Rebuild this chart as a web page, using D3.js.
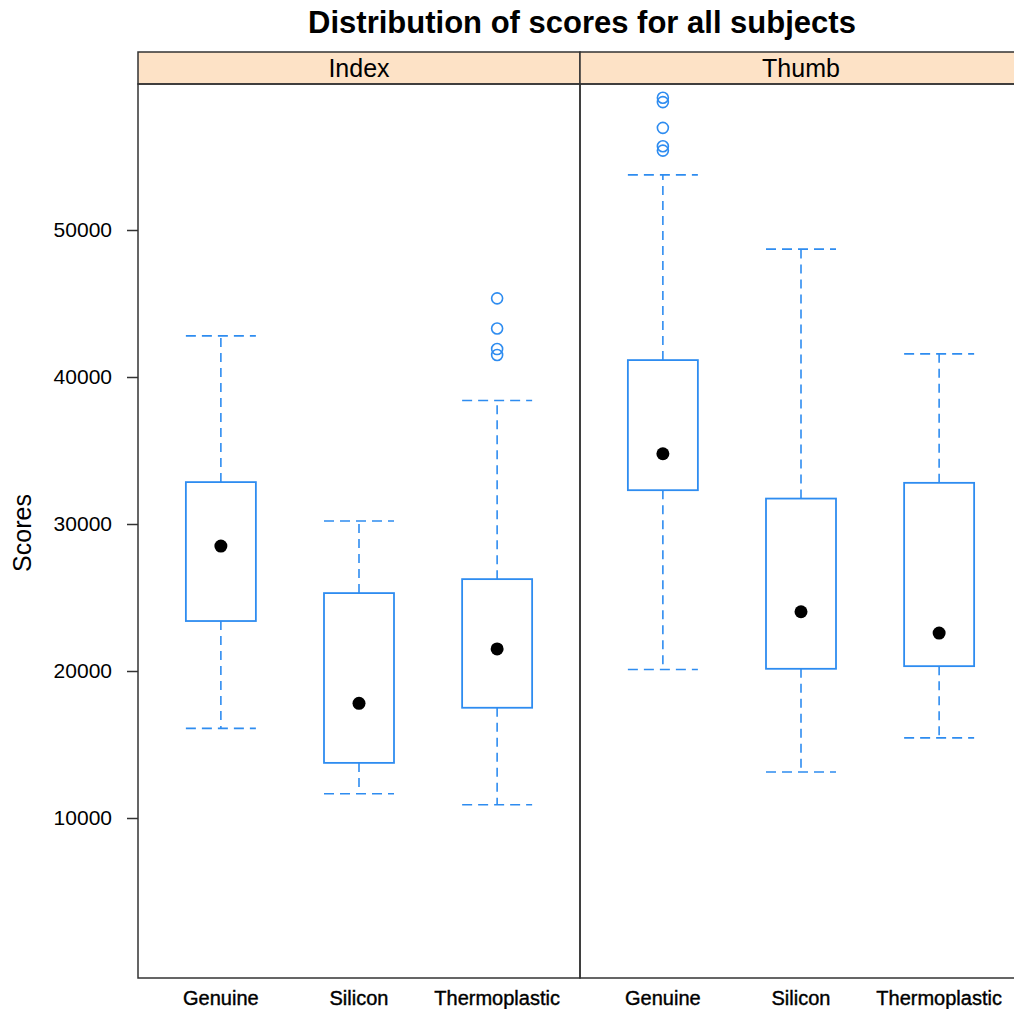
<!DOCTYPE html>
<html>
<head>
<meta charset="utf-8">
<script src="https://cdn.jsdelivr.net/npm/d3@7"></script>
<style>
  body { margin: 0; background: #fff; }
  svg { display: block; font-family: "Liberation Sans", Arial, sans-serif; }
</style>
</head>
<body>
<script>
// panels and groups
const panels = ["Index", "Thumb"];
const groups = ["Genuine", "Silicon", "Thermoplastic"];

// five-number summaries: [lowWhisker, q1, median, q3, highWhisker]
const indexStats = [
  [16100, 23400, 28500, 32850, 42800],
  [11650, 13750, 17800, 25300, 30200],
  [10900, 17500, 21500, 26250, 38400]
];
const thumbStats = [
  [20100, 32300, 34780, 41150, 53750],
  [13130, 20150, 24030, 31730, 48700],
  [15450, 20330, 22580, 32800, 41570]
];
// outliers
const indexOut = [[], [], [45350, 43300, 41900, 41500]];
const thumbOut = [[59000, 58700, 56950, 55700, 55400], [], []];

const yTicks = [10000, 20000, 30000, 40000, 50000];

const W = 1014, H = 1009;
const plotLeft = 138, panelW = 442, plotTop = 84, plotBottom = 978, stripH = 32;
const blue = "#2e8cf0";

const svg = d3.select("body").append("svg")
  .attr("width", W)
  .attr("height", H);

const y = d3.scaleLinear().domain([-884, 59932]).range([plotBottom, plotTop]);

// title
svg.append("text")
  .attr("x", plotLeft + panelW + 2)
  .attr("y", 33)
  .attr("text-anchor", "middle")
  .style("font-size", "31px")
  .style("font-weight", "bold")
  .text("Distribution of scores for all subjects");

// y axis title
svg.append("text")
  .attr("transform", `translate(31,${(plotTop + plotBottom) / 2 + 2}) rotate(-90)`)
  .attr("text-anchor", "middle")
  .style("font-size", "25px")
  .text("Scores");

// y axis (left of first panel)
const yAxis = svg.append("g")
  .attr("transform", `translate(${plotLeft},0)`)
  .call(d3.axisLeft(y).tickValues(yTicks).tickSize(11).tickPadding(15).tickFormat(d3.format("d")));
yAxis.select(".domain").remove();
yAxis.selectAll("line").attr("stroke", "#333").attr("stroke-width", 1.5);
yAxis.selectAll("text").style("font-size", "21px").attr("font-family", "Liberation Sans, Arial, sans-serif").attr("fill", "#000");

const allStats = [indexStats, thumbStats];
const allOut = [indexOut, thumbOut];

panels.forEach(function(p, pi) {
  const x0 = plotLeft + pi * panelW;
  const x = d3.scaleLinear().domain([0.4, 3.6]).range([x0, x0 + panelW]);
  const bw = 70;
  const g = svg.append("g");

  // strip
  g.append("rect")
    .attr("x", x0).attr("y", plotTop - stripH)
    .attr("width", panelW).attr("height", stripH)
    .attr("fill", "#fde2c6").attr("stroke", "#333").attr("stroke-width", 1.5);
  g.append("text")
    .attr("x", x0 + panelW / 2).attr("y", plotTop - 7)
    .attr("text-anchor", "middle")
    .style("font-size", "25px")
    .text(p);

  // panel frame
  g.append("rect")
    .attr("x", x0).attr("y", plotTop)
    .attr("width", panelW).attr("height", plotBottom - plotTop)
    .attr("fill", "none").attr("stroke", "#333").attr("stroke-width", 1.5);

  groups.forEach(function(grp, gi) {
    const s = allStats[pi][gi];
    const cx = x(gi + 1);

    // whiskers
    [[s[0], s[1]], [s[4], s[3]]].forEach(function(w) {
      g.append("line")
        .attr("x1", cx).attr("x2", cx)
        .attr("y1", y(w[1])).attr("y2", y(w[0]))
        .attr("stroke", blue).attr("stroke-width", 1.6)
        .attr("stroke-dasharray", "9,6");
      g.append("line")
        .attr("x1", cx - bw / 2).attr("x2", cx + bw / 2)
        .attr("y1", y(w[0])).attr("y2", y(w[0]))
        .attr("stroke", blue).attr("stroke-width", 1.6)
        .attr("stroke-dasharray", "10,6");
    });

    // box
    g.append("rect")
      .attr("x", cx - bw / 2).attr("y", y(s[3]))
      .attr("width", bw).attr("height", y(s[1]) - y(s[3]))
      .attr("fill", "none").attr("stroke", blue).attr("stroke-width", 1.8);

    // median dot
    g.append("circle")
      .attr("cx", cx).attr("cy", y(s[2])).attr("r", 6.5)
      .attr("fill", "#000");

    // outliers
    g.selectAll(null).data(allOut[pi][gi]).enter().append("circle")
      .attr("cx", cx).attr("cy", d => y(d)).attr("r", 5.5)
      .attr("fill", "none").attr("stroke", blue).attr("stroke-width", 1.6);

    // x label
    g.append("text")
      .attr("x", cx).attr("y", plotBottom + 27)
      .attr("text-anchor", "middle")
      .style("font-size", "20px")
      .attr("stroke", "#000").attr("stroke-width", 0.4)
      .text(grp);
  });
});
</script>
</body>
</html>
